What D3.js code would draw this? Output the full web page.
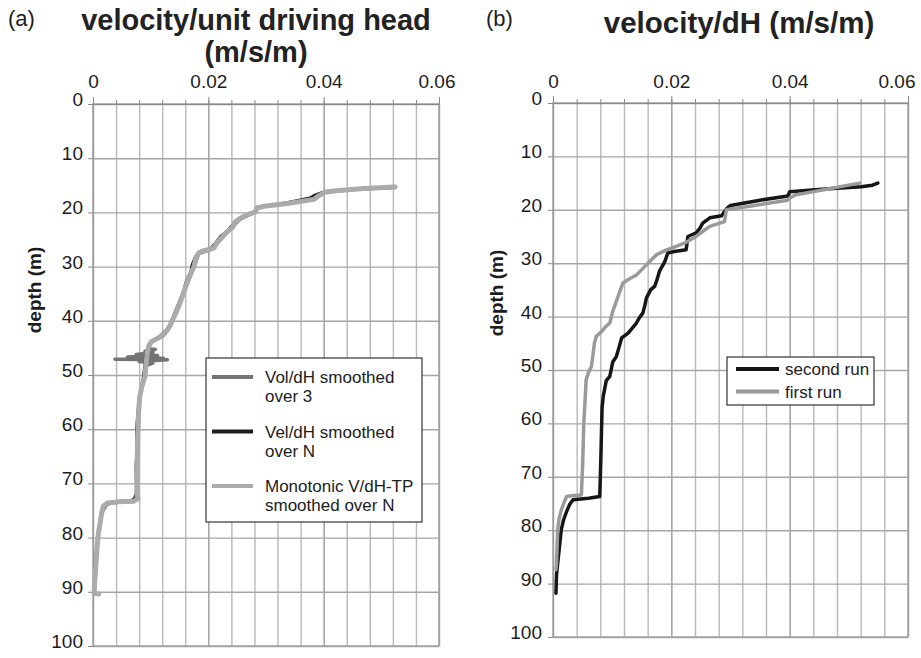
<!DOCTYPE html>
<html>
<head>
<meta charset="utf-8">
<script src="https://cdn.jsdelivr.net/npm/d3@7/dist/d3.min.js"></script>
<style>
  html, body { margin: 0; padding: 0; background: #fff; }
  svg { display: block; font-family: "Liberation Sans", Arial, sans-serif; }
</style>
</head>
<body>
<svg id="chart" width="921" height="658"></svg>
<script>
// ---------- DATA ----------
const xTickValues = [0, 0.02, 0.04, 0.06];
const xGridValues = [0, 0.004, 0.008, 0.012, 0.016, 0.02, 0.024, 0.028, 0.032, 0.036, 0.04, 0.044, 0.048, 0.052, 0.056, 0.06];
const yTickValues = [0, 10, 20, 30, 40, 50, 60, 70, 80, 90, 100];

const titleA = ["velocity/unit driving head", "(m/s/m)"];
const titleB = "velocity/dH (m/s/m)";
const yLabel = "depth (m)";

const legendA = ["Vol/dH smoothed over 3", "Vel/dH smoothed over N", "Monotonic V/dH-TP smoothed over N"];
const legendB = ["second run", "first run"];

// panel (a): [velocity per unit head, depth]
const aVol3 = [[0.0523,15.4],[0.0460,15.7],[0.0400,16.3],[0.0384,17.5],[0.0330,18.4],[0.0284,19.1],[0.0280,20.0],[0.0255,21.2],[0.0243,22.5],[0.0224,24.6],[0.0212,26.0],[0.0200,27.0],[0.0183,27.6],[0.0177,29.5],[0.0166,32.5],[0.0155,35.2],[0.0145,38.0],[0.0131,41.4],[0.0113,43.2],[0.0100,43.9],[0.0095,45.1],[0.0108,45.3],[0.0090,45.6],[0.0104,45.9],[0.0075,46.2],[0.0112,46.4],[0.0060,46.7],[0.0122,46.9],[0.0038,47.1],[0.0129,47.2],[0.0080,47.5],[0.0104,47.8],[0.0093,48.2],[0.0091,49.5],[0.0085,52.0],[0.0081,54.0],[0.0078,60.0],[0.0076,68.0],[0.0076,71.5],[0.0070,73.3],[0.0025,73.6],[0.0015,75.5],[0.0009,79.5],[0.0005,85.0],[0.0002,90.2]];
const aVelN = [[0.0522,15.3],[0.0460,15.7],[0.0402,16.2],[0.0386,16.8],[0.0376,17.4],[0.0330,18.4],[0.0287,19.0],[0.0280,20.0],[0.0262,20.8],[0.0250,21.6],[0.0240,22.6],[0.0236,23.2],[0.0222,24.4],[0.0212,25.8],[0.0204,26.8],[0.0186,27.3],[0.0178,28.2],[0.0172,29.8],[0.0170,31.0],[0.0162,32.8],[0.0157,34.8],[0.0150,36.6],[0.0143,38.4],[0.0137,40.0],[0.0130,41.6],[0.0121,42.8],[0.0108,43.4],[0.0098,44.2],[0.0093,46.0],[0.0090,48.5],[0.0087,51.0],[0.0082,53.5],[0.0079,56.0],[0.0076,60.0],[0.0077,63.0],[0.0075,67.0],[0.0076,71.0],[0.0077,72.6],[0.0065,73.3],[0.0035,73.5],[0.0019,74.0],[0.0014,76.0],[0.0010,78.5],[0.0007,81.5],[0.0004,85.5],[0.0002,90.0]];
const aMono = [[0.0524,15.3],[0.0470,15.6],[0.0420,16.0],[0.0402,16.3],[0.0392,16.9],[0.0383,17.6],[0.0340,18.3],[0.0300,18.8],[0.0284,19.2],[0.0282,19.9],[0.0268,20.4],[0.0255,21.1],[0.0246,21.8],[0.0242,22.8],[0.0232,23.6],[0.0224,24.6],[0.0215,25.6],[0.0210,26.5],[0.0200,26.9],[0.0190,27.1],[0.0183,27.5],[0.0178,28.6],[0.0175,30.0],[0.0168,31.6],[0.0163,33.0],[0.0158,34.6],[0.0152,36.4],[0.0146,38.0],[0.0140,39.4],[0.0133,41.0],[0.0124,42.4],[0.0113,43.2],[0.0102,43.8],[0.0097,44.6],[0.0094,46.0],[0.0092,48.0],[0.0090,50.3],[0.0085,52.0],[0.0081,54.0],[0.0079,57.0],[0.0078,60.0],[0.0077,64.0],[0.0076,68.0],[0.0076,71.5],[0.0078,72.8],[0.0070,73.3],[0.0045,73.4],[0.0025,73.6],[0.0018,74.2],[0.0015,75.5],[0.0012,77.5],[0.0009,79.5],[0.0007,82.0],[0.0005,85.0],[0.0003,88.0],[0.0002,90.3],[0.0010,90.4]];

// panel (b): [velocity/dH, depth]
const bSecond = [[0.0549,15.0],[0.0540,15.4],[0.0521,15.7],[0.0460,16.1],[0.0400,16.6],[0.0397,17.4],[0.0350,18.2],[0.0300,19.2],[0.0296,19.5],[0.0290,20.3],[0.0285,21.1],[0.0265,21.5],[0.0253,22.5],[0.0248,23.5],[0.0242,24.3],[0.0228,25.0],[0.0225,27.5],[0.0205,27.8],[0.0194,28.1],[0.0189,29.7],[0.0180,31.5],[0.0176,33.0],[0.0172,34.3],[0.0165,35.0],[0.0158,36.5],[0.0155,38.0],[0.0152,39.3],[0.0146,40.2],[0.0141,41.2],[0.0135,42.0],[0.0127,43.1],[0.0116,44.0],[0.0113,45.2],[0.0107,47.5],[0.0101,48.5],[0.0096,51.2],[0.0090,52.0],[0.0085,54.9],[0.0083,57.0],[0.0082,61.2],[0.0081,66.0],[0.0080,70.0],[0.0079,73.7],[0.0060,74.0],[0.0034,74.3],[0.0028,75.2],[0.0023,76.5],[0.0018,78.0],[0.0014,79.9],[0.0011,83.0],[0.0008,86.1],[0.0006,88.3],[0.0005,91.8]];
const bFirst = [[0.0518,15.0],[0.0460,16.2],[0.0410,17.2],[0.0400,17.8],[0.0396,18.2],[0.0340,19.2],[0.0293,20.0],[0.0290,22.2],[0.0265,23.1],[0.0250,24.3],[0.0242,25.0],[0.0223,26.2],[0.0205,27.0],[0.0192,27.5],[0.0175,28.4],[0.0165,29.5],[0.0158,30.3],[0.0150,31.2],[0.0141,32.2],[0.0128,33.0],[0.0118,33.7],[0.0114,35.0],[0.0110,36.2],[0.0105,37.8],[0.0101,39.0],[0.0096,41.2],[0.0088,42.0],[0.0082,42.8],[0.0073,43.7],[0.0070,45.0],[0.0068,46.8],[0.0065,49.3],[0.0060,50.5],[0.0056,51.8],[0.0054,56.2],[0.0052,60.0],[0.0051,64.3],[0.0050,68.0],[0.0048,73.4],[0.0035,73.5],[0.0023,73.7],[0.0018,75.0],[0.0014,76.2],[0.0010,78.0],[0.0008,79.9],[0.0007,83.0],[0.0006,86.1],[0.0005,87.4]];

// ---------- DRAW ----------
const svg = d3.select("#chart");
const fmtX = d => d === 0 ? "0" : d3.format(".2f")(d);
const TEXT = "#1c1c1c";

function panel(cfg) {
  const x = d3.scaleLinear().domain([0, 0.06]).range([cfg.x0, cfg.x1]);
  const y = d3.scaleLinear().domain([0, 100]).range([cfg.y0, cfg.y1]);
  const g = svg.append("g");
  const h = cfg.y1 - cfg.y0, w = cfg.x1 - cfg.x0;

  // vertical grid
  g.append("g").attr("transform", `translate(0,${cfg.y0})`)
    .call(d3.axisTop(x).tickValues(xGridValues).tickSize(-h).tickFormat(""))
    .call(a => a.select(".domain").remove())
    .call(a => a.selectAll("line").attr("stroke", d => (Math.round(d * 1000) % 20 === 0) ? "#9a9a9a" : "#b8b8b8").attr("stroke-width", 1.4));
  // horizontal grid
  g.append("g").attr("transform", `translate(${cfg.x0},0)`)
    .call(d3.axisLeft(y).tickValues(yTickValues).tickSize(-w).tickFormat(""))
    .call(a => a.select(".domain").remove())
    .call(a => a.selectAll("line").attr("stroke", "#a6a6a6").attr("stroke-width", 1.4));
  // border box
  g.append("rect").attr("x", cfg.x0).attr("y", cfg.y0).attr("width", w).attr("height", h)
    .attr("fill", "none").attr("stroke", "#a0a0a0").attr("stroke-width", 1.4);

  // minor top ticks
  g.append("g").attr("transform", `translate(0,${cfg.y0})`)
    .call(d3.axisTop(x).tickValues(xGridValues).tickSize(4).tickFormat(""))
    .call(a => a.select(".domain").attr("stroke", "#888"))
    .call(a => a.selectAll("line").attr("stroke", "#888"));
  // major top axis with labels
  g.append("g").attr("transform", `translate(0,${cfg.y0})`)
    .call(d3.axisTop(x).tickValues(xTickValues).tickSize(7).tickFormat(fmtX))
    .call(a => a.select(".domain").remove())
    .call(a => a.selectAll("line").attr("stroke", "#888"))
    .call(a => a.selectAll("text").attr("y", -cfg.xlab).attr("dy", "0").attr("font-size", 19)
      .attr("fill", TEXT).attr("font-family", "Liberation Sans, Arial, sans-serif")
      .attr("text-anchor", d => d === 0.06 ? "end" : "middle")
      .attr("dx", d => d === 0.06 ? cfg.lastDx : 0));
  // left axis
  g.append("g").attr("transform", `translate(${cfg.x0},0)`)
    .call(d3.axisLeft(y).tickValues(yTickValues).tickSize(5).tickPadding(cfg.ypad))
    .call(a => a.select(".domain").attr("stroke", "#999"))
    .call(a => a.selectAll("line").attr("stroke", "#888"))
    .call(a => a.selectAll("text").attr("dy", "0.08em").attr("font-size", 19)
      .attr("fill", TEXT).attr("font-family", "Liberation Sans, Arial, sans-serif"));

  // y label
  g.append("text").attr("transform", `translate(${cfg.ylx},${cfg.yly}) rotate(-90)`)
    .attr("text-anchor", "middle").attr("font-size", 19).attr("font-weight", "bold")
    .attr("fill", TEXT).text(yLabel);

  const line = d3.line().x(d => x(d[0])).y(d => y(d[1]));
  cfg.series.forEach(s => {
    g.append("path").datum(s.data).attr("d", line).attr("fill", "none")
      .attr("stroke", s.color).attr("stroke-width", s.width)
      .attr("stroke-linejoin", "round").attr("stroke-linecap", "round");
  });
  return g;
}

panel({
  x0: 93, x1: 439, y0: 104, y1: 646, xlab: 16, ypad: 5, ylx: 41, yly: 290, lastDx: 16,
  series: [
    { data: aVol3, color: "#747474", width: 3.5 },
    { data: aVelN, color: "#1e1e1e", width: 3.5 },
    { data: aMono, color: "#ababab", width: 5 }
  ]
});
panel({
  x0: 553, x1: 908, y0: 103, y1: 637, xlab: 15, ypad: 6, ylx: 503, yly: 293, lastDx: 7,
  series: [
    { data: bSecond, color: "#161616", width: 3.5 },
    { data: bFirst, color: "#9a9a9a", width: 3.5 }
  ]
});

// titles
svg.append("text").attr("x", 8).attr("y", 26).attr("font-size", 22).attr("fill", TEXT).text("(a)");
svg.append("text").attr("x", 486).attr("y", 26).attr("font-size", 22).attr("fill", TEXT).text("(b)");
titleA.forEach((t, i) => {
  svg.append("text").attr("x", 256).attr("y", i === 0 ? 29.5 : 62).attr("text-anchor", "middle")
    .attr("font-size", 29).attr("font-weight", "bold").attr("fill", "#222").text(t);
});
svg.append("text").attr("x", 739).attr("y", 33).attr("text-anchor", "middle")
  .attr("font-size", 29.5).attr("font-weight", "bold").attr("fill", "#222").text(titleB);

// legend (a)
const legA = svg.append("g");
legA.append("rect").attr("x", 206).attr("y", 358).attr("width", 216).attr("height", 164)
  .attr("fill", "#fff").attr("stroke", "#333").attr("stroke-width", 1.2);
const legAcolors = ["#747474", "#1e1e1e", "#ababab"];
const legAlines = [["Vol/dH smoothed", "over 3"], ["Vel/dH smoothed", "over N"], ["Monotonic V/dH-TP", "smoothed over N"]];
legendA.forEach((name, i) => {
  const cy = 377 + i * 54.5;
  legA.append("line").attr("x1", 212).attr("x2", 253).attr("y1", cy).attr("y2", cy)
    .attr("stroke", legAcolors[i]).attr("stroke-width", 4);
  const txt = legA.append("text").attr("x", 265).attr("y", cy + 6).attr("font-size", 17).attr("fill", TEXT);
  legAlines[i].forEach((l, j) => txt.append("tspan").attr("x", 265).attr("dy", j === 0 ? 0 : 19).text(l));
});

// legend (b)
const legB = svg.append("g");
legB.append("rect").attr("x", 727).attr("y", 357).attr("width", 147).attr("height", 48)
  .attr("fill", "#fff").attr("stroke", "#333").attr("stroke-width", 1.2);
const legBcolors = ["#161616", "#9a9a9a"];
legendB.forEach((name, i) => {
  const cy = 369 + i * 22.5;
  legB.append("line").attr("x1", 736).attr("x2", 779).attr("y1", cy).attr("y2", cy)
    .attr("stroke", legBcolors[i]).attr("stroke-width", 4);
  legB.append("text").attr("x", 785).attr("y", cy + 6).attr("font-size", 17).attr("fill", TEXT).text(name);
});
</script>
</body>
</html>
